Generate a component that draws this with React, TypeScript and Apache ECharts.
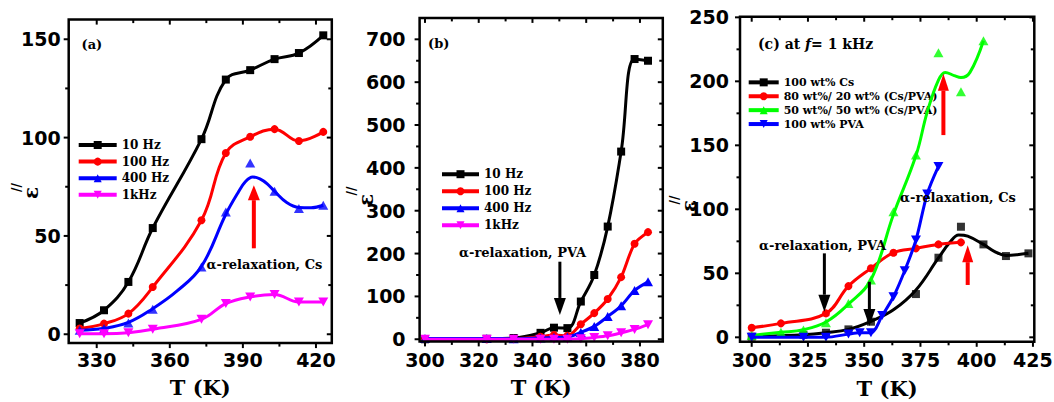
import React, { useEffect, useRef } from "react";
import * as echarts from "echarts";

// ---------------- Panel (a): Cs, several frequencies ----------------
const TA = [323, 333, 343, 353, 373, 383, 393, 403, 413, 423];
const A_10HZ = [5.7, 12.2, 26.6, 54, 99.2, 129.5, 134.3, 139.9, 143, 152];
const A_100HZ = [2.9, 5.4, 10.5, 24, 58, 92.2, 100.4, 104.3, 98.3, 102.9];
const A_400HZ = [2, 2.9, 5.7, 12.7, 34.2, 62.2, 87.1, 72.7, 63.9, 65.6];
const A_1KHZ = [0.3, 0.3, 0.8, 2.5, 7.6, 15.6, 19, 20.2, 16.4, 16.4];
// fitted curve of 400 Hz (passes below the 393 K point)
const TA_FIT400 = [323, 333, 343, 353, 363, 373, 383, 388, 391, 394, 397, 400, 403, 408, 413, 418, 423];
const A_400HZ_FIT = [2, 3, 6, 13, 22, 34.5, 61, 72, 77.5, 80, 79, 76.5, 72.7, 67, 64.5, 64.3, 65.6];

// ---------------- Panel (b): PVA, several frequencies ----------------
const TB = [300, 323, 333, 343, 348, 353, 358, 363, 368, 373, 378, 383];
const B_10HZ = [0, 1, 3, 15, 27, 26, 88, 150, 263, 438, 654, 650];
const B_100HZ = [0, 0, 1, 6, 10, 8, 35, 61, 94, 145, 223, 250];
const B_400HZ = [2, 2, 1, 3, 4, 5, 16, 30, 53, 78, 114, 134];
const B_1KHZ = [0, 0, 0, 0, 0, 0, 1, 4, 8, 15, 23, 34];

// ---------------- Panel (c): blends at 1 kHz ----------------
const TC_CS = [300, 323, 333, 343, 353, 373, 383, 393, 403, 413, 423];
const C_CS = [0.5, 2, 3.6, 6.2, 12.2, 33.8, 62.2, 86.4, 72.6, 63.5, 65.6];
const TC_CS_FIT = [300, 323, 333, 343, 353, 363, 373, 383, 388, 392, 396, 403, 408, 413, 418, 423];
const C_CS_FIT = [0.5, 2, 3.6, 6.2, 12.5, 21.5, 37, 62, 74, 80, 79, 72.6, 67, 64, 64.5, 65.6];
const TC_80 = [300, 313, 333, 343, 353, 363, 373, 383, 393];
const C_80 = [7.5, 10.9, 18.7, 40, 53.9, 66.1, 69.5, 72.6, 74.2];
const TC_50 = [300, 313, 323, 333, 343, 353, 363, 373, 383, 393, 403];
const C_50 = [1.5, 3.9, 5.7, 11.4, 26.5, 44.8, 98.2, 142.4, 222.4, 191.9, 231.7];
const TC_50_FIT = [300, 313, 323, 333, 343, 353, 363, 373, 378, 383, 386, 390, 393, 397, 403];
const C_50_FIT = [1.5, 3.9, 6, 12, 26, 45, 96, 142, 176, 201, 207, 204.5, 203, 207, 231.7];
const TC_PVA = [300, 323, 333, 343, 348, 353, 358, 363, 368, 373, 378, 383];
const C_PVA = [0, 0, 0, 2.5, 3.5, 3.5, 17, 31.7, 52, 76, 112, 133.5];

// ---------------- Legends ----------------
const LEG_AB = ["10 Hz", "100 Hz", "400 Hz", "1kHz"];
const LEG_C = ["100 wt% Cs", "80 wt%/ 20 wt% (Cs/PVA)", "50 wt%/ 50 wt% (Cs/PVA)", "100 wt% PVA"];

// ---------------- Axis ticks ----------------
const XA = { min: 318.5, max: 426.5, major: [330, 360, 390, 420], minor: [345, 375, 405] };
const YA = { min: -4.5, max: 160, major: [0, 50, 100, 150], minor: [25, 75, 125] };
const XB = { min: 298, max: 388.5, major: [300, 320, 340, 360, 380], minor: [310, 330, 350, 370] };
const YB = {
  min: -5, max: 750,
  major: [0, 100, 200, 300, 400, 500, 600, 700],
  minor: [50, 150, 250, 350, 450, 550, 650],
};
const XC = { min: 294.8, max: 425.6, major: [300, 325, 350, 375, 400, 425], minor: [312.5, 337.5, 362.5, 387.5, 412.5] };
const YC = { min: -3.5, max: 250.5, major: [0, 50, 100, 150, 200, 250], minor: [25, 75, 125, 175, 225] };

// ---------------- Arrows: [T, tail value, tip value] ----------------
const ARROW_A_CS = [394.5, 43.7, 75.8];
const ARROW_B_PVA = [350.2, 181, 56.7];
const ARROWS_C_CS = [[385.2, 158, 206], [396, 40.9, 72]];
const ARROWS_C_PVA = [[332.3, 65.6, 20], [352.3, 43.4, 8.8]];

const SERIF = '"DejaVu Serif", "Liberation Serif", serif';
const SANS = '"DejaVu Sans", "Liberation Sans", sans-serif';
const INK = "#000000";

const GRIDS = [
  { left: 68.7, top: 19.6, width: 263.1, height: 323.5 },
  { left: 419.6, top: 17.9, width: 243.2, height: 323.5 },
  { left: 740, top: 16.7, width: 294.3, height: 325.1 },
];

const pair = (xs: number[], ys: number[]) => xs.map((x, i) => [x, ys[i]]);

function makeSeries(o: any): any[] {
  const common = {
    xAxisIndex: o.g,
    yAxisIndex: o.g,
    symbol: o.symbol,
    symbolSize: o.size,
    symbolRotate: o.rot || 0,
    itemStyle: { color: o.color },
    emphasis: { disabled: true },
  };
  const line: any = {
    ...common,
    type: "line",
    name: o.name,
    smooth: o.smooth,
    lineStyle: { color: o.color, width: 3 },
    z: o.z,
  };
  if (o.fx) {
    line.data = pair(o.fx, o.fy);
    line.showSymbol = false;
    return [
      line,
      { ...common, type: "scatter", name: o.name + " (data)", data: pair(o.x, o.y), z: o.z + 1 },
    ];
  }
  line.data = pair(o.x, o.y);
  line.showSymbol = true;
  return [line];
}

// box frame with mirrored ticks, drawn through the panel's own axes
function frameSeries(g: number, X: any, Y: any) {
  return {
    type: "custom",
    name: "frame" + g,
    xAxisIndex: g,
    yAxisIndex: g,
    silent: true,
    clip: false,
    z: 20,
    data: [[(X.min + X.max) / 2, (Y.min + Y.max) / 2]],
    renderItem: (_p: any, api: any) => {
      const p0 = api.coord([X.min, Y.min]);
      const p1 = api.coord([X.max, Y.max]);
      const l = p0[0], r = p1[0], b = p0[1], t = p1[1];
      const seg = (x1: number, y1: number, x2: number, y2: number) => ({
        type: "line",
        shape: { x1, y1, x2, y2 },
        style: { stroke: INK, lineWidth: 2 },
      });
      const children: any[] = [
        {
          type: "rect",
          shape: { x: l, y: t, width: r - l, height: b - t },
          style: { fill: "none", stroke: INK, lineWidth: 2.5 },
        },
      ];
      const xt = (vals: number[], len: number) =>
        vals.forEach((v) => {
          const x = api.coord([v, Y.min])[0];
          children.push(seg(x, b, x, b + len));
          children.push(seg(x, t, x, t + len));
        });
      const yt = (vals: number[], len: number) =>
        vals.forEach((v) => {
          const y = api.coord([X.min, v])[1];
          children.push(seg(l, y, l - len, y));
          children.push(seg(r, y, r - len, y));
        });
      xt(X.major, 5);
      xt(X.minor, 3.5);
      yt(Y.major, 5);
      yt(Y.minor, 3.5);
      return { type: "group", children };
    },
  };
}

function axes(g: number, X: any, Y: any, m: any) {
  const lab = (vals: number[], margin: number) => ({
    show: true,
    customValues: vals,
    margin,
    color: INK,
    fontFamily: SANS,
    fontWeight: "bold",
    fontSize: 19,
  });
  const x = {
    gridIndex: g, type: "value", position: "bottom", min: X.min, max: X.max,
    axisLine: { show: false }, axisTick: { show: false }, splitLine: { show: false },
    axisLabel: lab(X.major, m.xm),
    name: "T (K)", nameLocation: "middle", nameGap: m.ng,
    nameTextStyle: { fontFamily: SERIF, fontWeight: "bold", fontSize: 21, color: INK },
  };
  const y = {
    gridIndex: g, type: "value", position: "left", min: Y.min, max: Y.max,
    axisLine: { show: false }, axisTick: { show: false }, splitLine: { show: false },
    axisLabel: lab(Y.major, m.ym),
  };
  return { x, y };
}

function txt(text: string, x: number, y: number, size: number, extra: any = {}) {
  return {
    type: "text",
    x,
    y,
    rotation: extra.rot || 0,
    silent: true,
    z: 100,
    style: {
      text,
      fill: extra.fill || INK,
      fontFamily: SERIF,
      fontWeight: "bold",
      fontSize: size,
      align: extra.align || "left",
      verticalAlign: "middle",
      rich: extra.rich,
    },
  };
}

export default function App() {
  const ref = useRef<HTMLDivElement>(null);
  useEffect(() => {
    if (!ref.current) return;
    const chart = echarts.init(ref.current, undefined, { renderer: "svg" });

    const a = axes(0, XA, YA, { xm: 7, ym: 8, ng: 34 });
    const b = axes(1, XB, YB, { xm: 9, ym: 14, ng: 36 });
    const c = axes(2, XC, YC, { xm: 9, ym: 11, ng: 36 });

    const SQ = 8, CI = 8, TR = [10, 9];
    const series = [
      ...makeSeries({ g: 0, name: "10 Hz", x: TA, y: A_10HZ, color: INK, symbol: "rect", size: SQ, smooth: 0.4, z: 2 }),
      ...makeSeries({ g: 0, name: "100 Hz", x: TA, y: A_100HZ, color: "#ff0000", symbol: "circle", size: CI, smooth: 0.4, z: 3 }),
      ...makeSeries({ g: 0, name: "400 Hz", x: TA, y: A_400HZ, fx: TA_FIT400, fy: A_400HZ_FIT, color: "#0000ff", symbol: "triangle", size: TR, smooth: 0.4, z: 4 }),
      ...makeSeries({ g: 0, name: "1kHz", x: TA, y: A_1KHZ, color: "#ff00ff", symbol: "triangle", rot: 180, size: TR, smooth: 0.4, z: 6 }),

      ...makeSeries({ g: 1, name: "10 Hz", x: TB, y: B_10HZ, color: INK, symbol: "rect", size: SQ, smooth: 0.4, z: 2 }),
      ...makeSeries({ g: 1, name: "100 Hz", x: TB, y: B_100HZ, color: "#ff0000", symbol: "circle", size: CI, smooth: 0.3, z: 3 }),
      ...makeSeries({ g: 1, name: "400 Hz", x: TB, y: B_400HZ, color: "#0000ff", symbol: "triangle", size: TR, smooth: 0.3, z: 4 }),
      ...makeSeries({ g: 1, name: "1kHz", x: TB, y: B_1KHZ, color: "#ff00ff", symbol: "triangle", rot: 180, size: TR, smooth: 0.3, z: 5 }),

      ...makeSeries({ g: 2, name: LEG_C[0], x: TC_CS, y: C_CS, fx: TC_CS_FIT, fy: C_CS_FIT, color: INK, symbol: "rect", size: SQ, smooth: 0.4, z: 2 }),
      ...makeSeries({ g: 2, name: LEG_C[1], x: TC_80, y: C_80, color: "#ff0000", symbol: "circle", size: CI, smooth: 0.4, z: 4 }),
      ...makeSeries({ g: 2, name: LEG_C[2], x: TC_50, y: C_50, fx: TC_50_FIT, fy: C_50_FIT, color: "#00ff00", symbol: "triangle", size: TR, smooth: 0.4, z: 6 }),
      ...makeSeries({ g: 2, name: LEG_C[3], x: TC_PVA, y: C_PVA, color: "#0000ff", symbol: "triangle", rot: 180, size: TR, smooth: 0.3, z: 8 }),

      frameSeries(0, XA, YA),
      frameSeries(1, XB, YB),
      frameSeries(2, XC, YC),
    ];

    const legendBase = {
      orient: "vertical",
      itemGap: 0,
      padding: 0,
      selectedMode: false,
      lineStyle: { width: 4 },
    };

    const texts = [
      txt("(a)", 81.5, 44, 13),
      txt("(b)", 428, 43, 13),
      txt("(c) at {i|f}= 1 kHz", 758, 43.5, 14, {
        rich: { i: { fontFamily: SERIF, fontWeight: "bold", fontStyle: "italic", fontSize: 14, fill: INK } },
      }),
      txt("α-relaxation, Cs", 206.5, 264, 13),
      txt("α-relaxation, PVA", 459, 252, 13),
      txt("α-relaxation, Cs", 900, 197.5, 13),
      txt("α-relaxation, PVA", 759, 245, 13),
      txt("ε", 31, 193, 20, { rot: Math.PI / 2, align: "center" }),
      txt("//", 16.5, 187.5, 12, { rot: Math.PI / 2, align: "center" }),
      txt("ε", 366, 200, 20, { rot: Math.PI / 2, align: "center" }),
      txt("//", 352, 191, 12, { rot: Math.PI / 2, align: "center" }),
      txt("ε", 689, 206, 20, { rot: Math.PI / 2, align: "center" }),
      txt("//", 675, 200, 12, { rot: Math.PI / 2, align: "center" }),
    ];

    const option: any = {
      animation: false,
      grid: GRIDS.map((g) => ({ ...g, outerBoundsMode: "none" })),
      xAxis: [a.x, b.x, c.x],
      yAxis: [a.y, b.y, c.y],
      legend: [
        {
          ...legendBase, data: LEG_AB, left: 76.7, top: 136.7, itemWidth: 38, itemHeight: 10,
          textStyle: { fontFamily: SERIF, fontWeight: "bold", fontSize: 12, color: INK, lineHeight: 16.6 },
        },
        {
          ...legendBase, data: LEG_AB, left: 440, top: 165.7, itemWidth: 37, itemHeight: 10,
          textStyle: { fontFamily: SERIF, fontWeight: "bold", fontSize: 12, color: INK, lineHeight: 17 },
        },
        {
          ...legendBase, data: LEG_C, left: 746.7, top: 75.4, itemWidth: 30, itemHeight: 10,
          textStyle: { fontFamily: SERIF, fontWeight: "bold", fontSize: 11, color: INK, lineHeight: 13.9 },
        },
      ],
      graphic: texts,
      series,
    };
    chart.setOption(option);

    // arrows, positioned in data coordinates through the axes
    const arrow = (g: number, a: number[], color: string, w: number, headW: number, headL: number) => {
      const finder = { xAxisIndex: g, yAxisIndex: g };
      const tail = chart.convertToPixel(finder, [a[0], a[1]]) as number[];
      const tip = chart.convertToPixel(finder, [a[0], a[2]]) as number[];
      const dir = tip[1] < tail[1] ? 1 : -1; // 1: pointing up
      const baseY = tip[1] + dir * headL;
      return [
        {
          type: "line", silent: true, z: 90,
          shape: { x1: tail[0], y1: tail[1], x2: tip[0], y2: baseY },
          style: { stroke: color, lineWidth: w },
        },
        {
          type: "polygon", silent: true, z: 91,
          shape: { points: [[tip[0], tip[1]], [tip[0] - headW / 2, baseY], [tip[0] + headW / 2, baseY]] },
          style: { fill: color },
        },
      ];
    };
    const arrows = [
      ...arrow(0, ARROW_A_CS, "#ff0000", 4, 12, 15),
      ...arrow(1, ARROW_B_PVA, INK, 3, 12, 17),
      ...ARROWS_C_CS.flatMap((a) => arrow(2, a, "#ff0000", 4, 11, 17)),
      ...ARROWS_C_PVA.flatMap((a) => arrow(2, a, INK, 3, 12, 17)),
    ];
    chart.setOption({ graphic: [...texts, ...arrows] }, { replaceMerge: ["graphic"] });

    return () => chart.dispose();
  }, []);
  return (
    <div
      ref={ref}
      style={{ position: "fixed", left: 0, top: 0, width: 1054, height: 402, background: "#fff" }}
    />
  );
}
